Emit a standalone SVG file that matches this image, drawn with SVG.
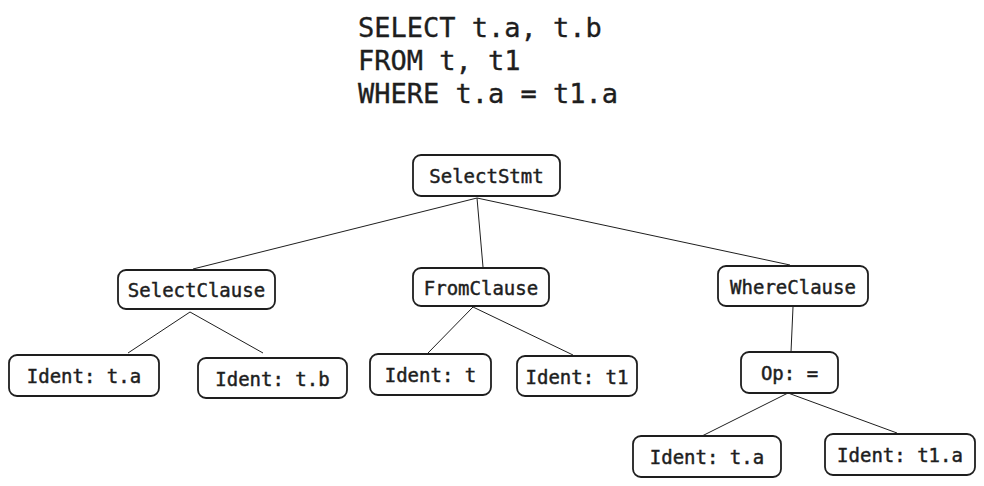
<svg xmlns="http://www.w3.org/2000/svg" width="984" height="486" viewBox="0 0 984 486">
<style>
.bg{fill:#ffffff}
.box{fill:#ffffff;stroke:#1e1e1e;stroke-width:1.8}
.lbl{font-family:"DejaVu Sans Mono","Liberation Mono",monospace;font-size:19px;fill:#1e1e1e;stroke:#1e1e1e;stroke-width:0.45;text-anchor:middle}
.title{font-family:"DejaVu Sans Mono","Liberation Mono",monospace;font-size:27px;fill:#1e1e1e;stroke:#1e1e1e;stroke-width:0.35}
.edge{stroke:#1e1e1e;stroke-width:1;fill:none}
</style>
<rect class="bg" x="0" y="0" width="984" height="486"/>
<g id="title">
<text class="title" x="358" y="37">SELECT t.a, t.b</text>
<text class="title" x="358" y="70">FROM t, t1</text>
<text class="title" x="358" y="103">WHERE t.a = t1.a</text>
</g>
<g id="connectors">
<line class="edge" x1="477" y1="198" x2="193" y2="269"/>
<line class="edge" x1="477" y1="198" x2="483" y2="267"/>
<line class="edge" x1="477" y1="198" x2="790" y2="265"/>
<line class="edge" x1="190" y1="312" x2="128" y2="353"/>
<line class="edge" x1="190" y1="312" x2="263" y2="353"/>
<line class="edge" x1="473" y1="307" x2="428" y2="353"/>
<line class="edge" x1="473" y1="307" x2="573" y2="355"/>
<line class="edge" x1="793" y1="307" x2="791" y2="352"/>
<line class="edge" x1="788" y1="393" x2="702" y2="436"/>
<line class="edge" x1="788" y1="393" x2="897" y2="433"/>
</g>
<g id="SelectStmt"><rect class="box" x="413" y="155" width="147" height="41" rx="8"/><text class="lbl" x="486.5" y="183">SelectStmt</text></g>
<g id="SelectClause"><rect class="box" x="118" y="270" width="157" height="39" rx="8"/><text class="lbl" x="196.5" y="297">SelectClause</text></g>
<g id="FromClause"><rect class="box" x="413" y="268" width="136" height="38" rx="8"/><text class="lbl" x="481" y="295">FromClause</text></g>
<g id="WhereClause"><rect class="box" x="718" y="266" width="150" height="40" rx="8"/><text class="lbl" x="793" y="294">WhereClause</text></g>
<g id="IdentTa1"><rect class="box" x="9" y="355" width="150" height="41" rx="8"/><text class="lbl" x="84" y="383">Ident: t.a</text></g>
<g id="IdentTb"><rect class="box" x="198" y="358" width="149" height="40" rx="8"/><text class="lbl" x="272.5" y="386">Ident: t.b</text></g>
<g id="IdentT"><rect class="box" x="370" y="354" width="121" height="41" rx="8"/><text class="lbl" x="430.5" y="382">Ident: t</text></g>
<g id="IdentT1"><rect class="box" x="517" y="356" width="120" height="40" rx="8"/><text class="lbl" x="577" y="384">Ident: t1</text></g>
<g id="OpEq"><rect class="box" x="741" y="352" width="97" height="41" rx="8"/><text class="lbl" x="789.5" y="380">Op: =</text></g>
<g id="IdentTa2"><rect class="box" x="633" y="436" width="148" height="41" rx="8"/><text class="lbl" x="707" y="464">Ident: t.a</text></g>
<g id="IdentT1a"><rect class="box" x="825" y="434" width="150" height="41" rx="8"/><text class="lbl" x="900" y="462">Ident: t1.a</text></g>
</svg>
